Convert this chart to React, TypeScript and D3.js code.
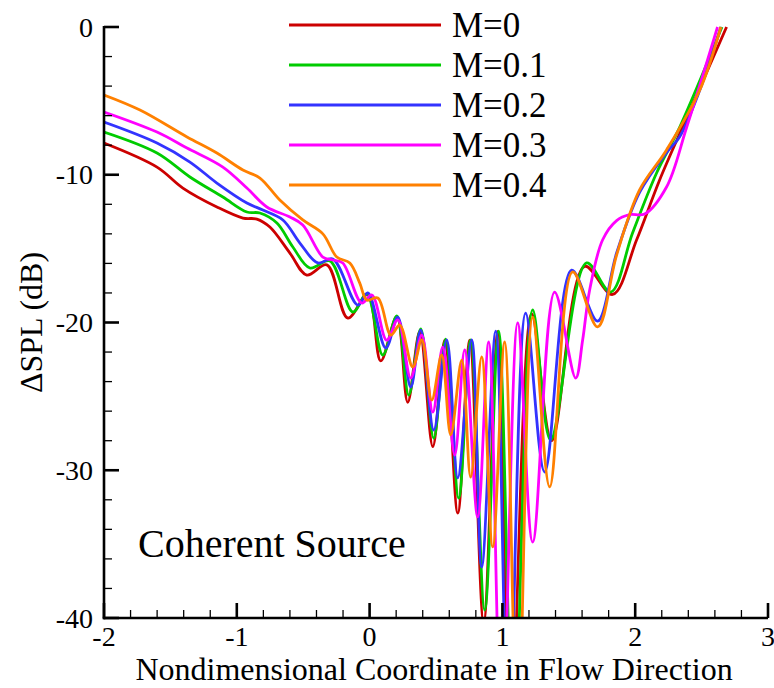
import React, { useEffect } from "react";
import * as d3 from "d3";

const seriesNames = ["M=0", "M=0.1", "M=0.2", "M=0.3", "M=0.4"];
const seriesColors = ["#cc0000", "#00cc00", "#3333ff", "#ff00ff", "#ff8000"];

const xTickValues = [-2, -1, 0, 1, 2, 3];
const yTickValues = [0, -10, -20, -30, -40];

const m0: [number, number][] = [
  [-2.0, -7.85], [-1.601, -9.48], [-1.406, -10.9], [-1.15, -12.18], [-0.954, -12.93], [-0.849, -13.0],
  [-0.751, -13.54], [-0.6, -15.3], [-0.473, -16.79], [-0.322, -16.1], [-0.164, -19.7], [-0.014, -18.1],
  [0.084, -22.6], [0.205, -19.6], [0.287, -25.4], [0.378, -20.6], [0.476, -28.4], [0.566, -21.2],
  [0.664, -32.9], [0.754, -21.2], [0.859, -40.3], [0.965, -20.6], [1.062, -48], [1.22, -19.4],
  [1.371, -28.0], [1.619, -16.2], [1.83, -18.1], [2.011, -14.4], [2.184, -10.35], [2.387, -6.16], [2.688, 0],
];
const m1: [number, number][] = [
  [-2.0, -7.11], [-1.601, -8.53], [-1.353, -10.15], [-1.105, -11.51], [-0.924, -12.52], [-0.826, -12.59],
  [-0.698, -13.27], [-0.578, -14.89], [-0.45, -16.31], [-0.299, -15.84], [-0.126, -19.29], [-0.021, -18.07],
  [0.099, -22.2], [0.205, -19.56], [0.295, -24.91], [0.385, -20.44], [0.483, -27.82], [0.573, -21.12],
  [0.671, -31.88], [0.761, -21.18], [0.867, -39.46], [0.972, -20.58], [1.085, -48], [1.228, -19.15],
  [1.363, -27.95], [1.634, -15.97], [1.815, -17.94], [1.98, -13.94], [2.161, -9.88], [2.334, -6.8], [2.653, 0],
];
const m2: [number, number][] = [
  [-2.0, -6.43], [-1.601, -7.85], [-1.353, -9.14], [-1.15, -10.56], [-0.924, -11.91], [-0.804, -12.39],
  [-0.653, -13.06], [-0.525, -14.62], [-0.39, -15.97], [-0.277, -15.7], [-0.089, -18.82], [-0.014, -18.0],
  [0.122, -21.73], [0.212, -19.63], [0.31, -24.37], [0.385, -20.51], [0.483, -27.28], [0.581, -21.18],
  [0.664, -30.52], [0.769, -21.18], [0.844, -36.55], [0.95, -20.58], [1.047, -48], [1.175, -19.36],
  [1.318, -30.12], [1.521, -16.45], [1.717, -19.9], [1.86, -15.3], [2.033, -11.2], [2.236, -8.5],
  [2.334, -7.44], [2.485, -4.3], [2.645, 0],
];
const m3: [number, number][] = [
  [-2.0, -5.75], [-1.601, -7.11], [-1.375, -8.19], [-1.105, -9.48], [-0.924, -10.9], [-0.774, -12.18],
  [-0.6, -12.86], [-0.503, -13.4], [-0.352, -15.57], [-0.277, -15.77], [-0.202, -15.97], [-0.059, -18.68],
  [0.017, -18.14], [0.129, -21.2], [0.212, -19.83], [0.31, -23.76], [0.393, -20.85], [0.476, -26.06],
  [0.551, -21.66], [0.641, -28.97], [0.716, -21.86], [0.814, -33.16], [0.897, -21.32], [0.995, -48],
  [1.115, -20.03], [1.228, -34.86], [1.393, -17.94], [1.552, -23.76], [1.604, -21.2], [1.657, -17.8],
  [1.755, -14.4], [1.86, -13.1], [1.958, -12.7], [2.071, -12.66], [2.236, -10.83], [2.387, -6.8], [2.62, 0],
];
const m4: [number, number][] = [
  [-2.0, -4.6], [-1.729, -5.62], [-1.375, -7.44], [-1.15, -8.53], [-0.954, -9.68], [-0.826, -10.22],
  [-0.676, -11.71], [-0.503, -13.06], [-0.352, -14.0], [-0.247, -15.57], [-0.149, -15.97], [-0.074, -17.33],
  [-0.021, -18.48], [0.062, -18.34], [0.16, -20.85], [0.227, -20.17], [0.325, -23.01], [0.393, -21.18],
  [0.468, -25.25], [0.543, -22.2], [0.611, -27.61], [0.694, -22.54], [0.761, -30.46], [0.844, -22.33],
  [0.927, -35.19], [1.017, -21.32], [1.115, -48], [1.228, -19.63], [1.356, -31.13], [1.529, -16.58],
  [1.717, -20.3], [1.86, -15.43], [2.033, -11.03], [2.236, -8.32], [2.485, -4.3], [2.645, 0],
];
const seriesData = [m0, m1, m2, m3, m4];

const W = 774;
const H = 688;
const L = 104, R = 768, T = 27, B = 618;
const FONT = "'Liberation Serif', 'Times New Roman', Times, serif";

export default function App() {
  useEffect(() => {
    document.body.style.margin = "0";
  }, []);

  const x = d3.scaleLinear().domain([-2, 3]).range([L, R]);
  const y = d3.scaleLinear().domain([-40, 0]).range([B, T]);
  const line = d3
    .line<[number, number]>()
    .x((d) => x(d[0]))
    .y((d) => y(d[1]))
    .curve(d3.curveCatmullRom.alpha(0.5));

  const xMinor = d3.range(-2, 3.0001, 0.2).filter((v) => Math.abs(v - Math.round(v)) > 1e-6);
  const yMinor = d3.range(-40, 0.0001, 2).filter((v) => Math.abs(v / 10 - Math.round(v / 10)) > 1e-6);

  return (
    <svg width={W} height={H} style={{ position: "absolute", left: 0, top: 0, background: "#fff" }}>
      <defs>
        <clipPath id="plotClip">
          <rect x={L} y={T - 2} width={R - L} height={B - T + 2} />
        </clipPath>
      </defs>
      <rect x={0} y={0} width={W} height={H} fill="#fff" />

      <g clipPath="url(#plotClip)">
        {seriesData.map((d, i) => (
          <path key={i} d={line(d) || ""} fill="none" stroke={seriesColors[i]} strokeWidth={2.8} strokeLinejoin="round" />
        ))}
      </g>

      {/* axes */}
      <g stroke="#000" fill="none">
        <line x1={L} y1={T - 1} x2={L} y2={B + 1.2} strokeWidth={2.6} />
        <line x1={L - 1.2} y1={B} x2={R} y2={B} strokeWidth={2.6} />
        {yTickValues.map((v) => (
          <line key={"yt" + v} x1={L} x2={L + 15} y1={y(v)} y2={y(v)} strokeWidth={2.6} />
        ))}
        {yMinor.map((v) => (
          <line key={"ym" + v} x1={L} x2={L + 8} y1={y(v)} y2={y(v)} strokeWidth={1.3} />
        ))}
        {xTickValues.map((v) => (
          <line key={"xt" + v} x1={x(v)} x2={x(v)} y1={B} y2={B - 15} strokeWidth={2.6} />
        ))}
        {xMinor.map((v) => (
          <line key={"xm" + v.toFixed(2)} x1={x(v)} x2={x(v)} y1={B} y2={B - 8} strokeWidth={1.3} />
        ))}
      </g>

      <g fontFamily={FONT} fontSize={28} fill="#000">
        {yTickValues.map((v) => (
          <text key={"yl" + v} x={L - 11} y={y(v) + 9.5} textAnchor="end">
            {String(v)}
          </text>
        ))}
        {xTickValues.map((v) => (
          <text key={"xl" + v} x={x(v)} y={B + 28} textAnchor="middle">
            {String(v)}
          </text>
        ))}
      </g>

      <text x={(L + R) / 2 - 2} y={680} textAnchor="middle" fontFamily={FONT} fontSize={32}>
        Nondimensional Coordinate in Flow Direction
      </text>
      <text
        transform={`translate(42, ${(T + B) / 2}) rotate(-90)`}
        textAnchor="middle"
        fontFamily={FONT}
        fontSize={32}
      >
        ΔSPL (dB)
      </text>

      <text x={138} y={557} fontFamily={FONT} fontSize={40}>
        Coherent Source
      </text>

      {/* legend */}
      <g>
        {seriesNames.map((name, i) => (
          <g key={name} transform={`translate(0, ${25 + i * 40})`}>
            <line x1={289} x2={441} y1={0} y2={0} stroke={seriesColors[i]} strokeWidth={3} />
            <text x={452} y={12} fontFamily={FONT} fontSize={35} fill="#000">
              {name}
            </text>
          </g>
        ))}
      </g>
    </svg>
  );
}
